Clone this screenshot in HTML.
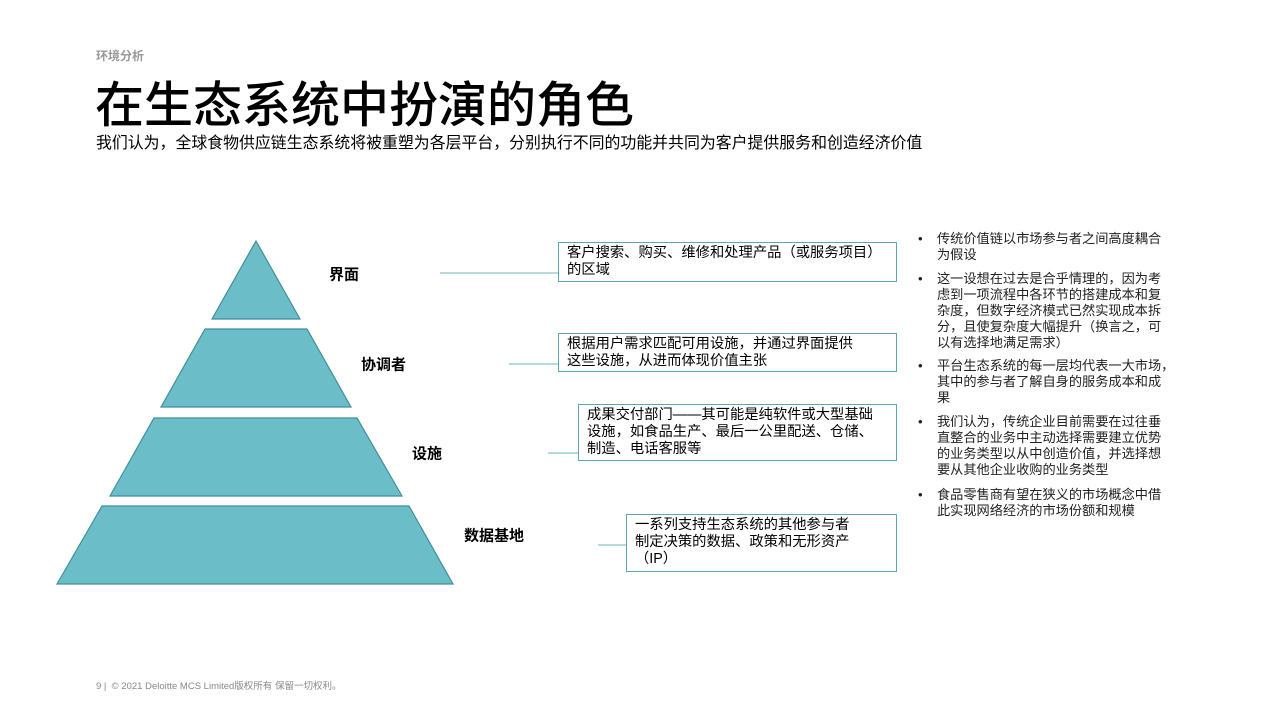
<!DOCTYPE html>
<html><head><meta charset="utf-8"><style>
body{margin:0;width:1280px;height:720px;background:#fff;position:relative;overflow:hidden;font-family:"Liberation Sans","Noto Sans CJK SC",sans-serif;color:#000}
.a{position:absolute;white-space:nowrap}
.box{position:absolute;border:1.5px solid #5aa7b5;box-sizing:border-box;font-size:14.3px;line-height:17px;padding:2px 8px;white-space:nowrap}
.lbl{position:absolute;font-size:15px;font-weight:bold;transform:translateY(-50%)}
.bl{position:absolute;left:918px;font-size:13.2px;line-height:16px;color:#222}
.bl span{position:absolute;left:19px;white-space:nowrap}
</style></head><body>
<div class="a" style="left:96px;top:47px;font-size:12px;color:#999;font-weight:bold">环境分析</div>
<div class="a" style="left:95px;top:78px;font-size:49px;font-weight:500;line-height:56px">在生态系统中扮演的角色</div>
<div class="a" style="left:96px;top:135px;font-size:15.9px;line-height:18px">我们认为，全球食物供应链生态系统将被重塑为各层平台，分别执行不同的功能并共同为客户提供服务和创造经济价值</div>
<svg class="a" style="left:0;top:0" width="1280" height="720">
<g fill="#6bbec7" stroke="#3f8f9e" stroke-width="1.2">
<polygon points="256,241 300,319 212,319"/>
<polygon points="205,329 307,329 351,407 161,407"/>
<polygon points="154,418 357,418 402,496 110,496"/>
<polygon points="102,506 409,506 453,584 57,584"/>
</g>
<g stroke="#8cc3cc" stroke-width="1.2">
<line x1="440" y1="273" x2="558" y2="273"/>
<line x1="509" y1="364" x2="558" y2="364"/>
<line x1="548" y1="453" x2="578" y2="453"/>
<line x1="598" y1="545" x2="626" y2="545"/>
</g>
</svg>
<div class="lbl" style="left:329px;top:274px">界面</div>
<div class="lbl" style="left:361px;top:364px">协调者</div>
<div class="lbl" style="left:412px;top:453px">设施</div>
<div class="lbl" style="left:464px;top:535px">数据基地</div>
<div class="box" style="left:558px;top:242px;width:339px;height:40px">客户搜索、购买、维修和处理产品（或服务项目）<br>的区域</div>
<div class="box" style="left:558px;top:333px;width:339px;height:39px">根据用户需求匹配可用设施，并通过界面提供<br>这些设施，从进而体现价值主张</div>
<div class="box" style="left:578px;top:404px;width:319px;height:57px">成果交付部门——其可能是纯软件或大型基础<br>设施，如食品生产、最后一公里配送、仓储、<br>制造、电话客服等</div>
<div class="box" style="left:626px;top:514px;width:271px;height:58px">一系列支持生态系统的其他参与者<br>制定决策的数据、政策和无形资产<br>（IP）</div>
<div class="bl" style="top:231px">•<span>传统价值链以市场参与者之间高度耦合<br>为假设</span></div>
<div class="bl" style="top:271px">•<span>这一设想在过去是合乎情理的，因为考<br>虑到一项流程中各环节的搭建成本和复<br>杂度，但数字经济模式已然实现成本拆<br>分，且使复杂度大幅提升（换言之，可<br>以有选择地满足需求）</span></div>
<div class="bl" style="top:358px">•<span>平台生态系统的每一层均代表一大市场，<br>其中的参与者了解自身的服务成本和成<br>果</span></div>
<div class="bl" style="top:414px">•<span>我们认为，传统企业目前需要在过往垂<br>直整合的业务中主动选择需要建立优势<br>的业务类型以从中创造价值，并选择想<br>要从其他企业收购的业务类型</span></div>
<div class="bl" style="top:487px">•<span>食品零售商有望在狭义的市场概念中借<br>此实现网络经济的市场份额和规模</span></div>
<div class="a" style="left:96px;top:678px;font-size:9.5px;color:#888">9 | &nbsp;© 2021 Deloitte MCS Limited版权所有 保留一切权利。</div>
</body></html>
